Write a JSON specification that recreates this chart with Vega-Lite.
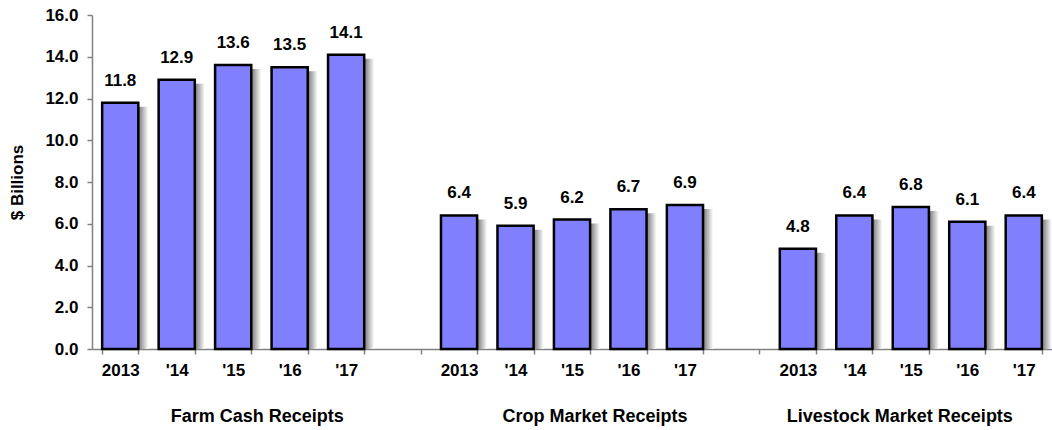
{
  "$schema": "https://vega.github.io/schema/vega-lite/v6.json",
  "width": 960,
  "height": 334,
  "autosize": {"type": "none"},
  "padding": {"left": 92, "top": 15, "right": 0, "bottom": 81},
  "background": "white",
  "config": {
    "view": {"stroke": null},
    "font": "Liberation Sans",
    "axis": {"labelFont": "Liberation Sans", "titleFont": "Liberation Sans", "labelFontWeight": "bold", "titleFontWeight": "bold", "labelColor": "black", "titleColor": "black", "domainColor": "#808080", "tickColor": "#808080", "grid": false}
  },
  "datasets": {
    "bars": [
      {"slot": "a|2013", "group": "Farm Cash Receipts", "value": 11.8},
      {"slot": "a|'14", "group": "Farm Cash Receipts", "value": 12.9},
      {"slot": "a|'15", "group": "Farm Cash Receipts", "value": 13.6},
      {"slot": "a|'16", "group": "Farm Cash Receipts", "value": 13.5},
      {"slot": "a|'17", "group": "Farm Cash Receipts", "value": 14.1},
      {"slot": "b|2013", "group": "Crop Market Receipts", "value": 6.4},
      {"slot": "b|'14", "group": "Crop Market Receipts", "value": 5.9},
      {"slot": "b|'15", "group": "Crop Market Receipts", "value": 6.2},
      {"slot": "b|'16", "group": "Crop Market Receipts", "value": 6.7},
      {"slot": "b|'17", "group": "Crop Market Receipts", "value": 6.9},
      {"slot": "c|2013", "group": "Livestock Market Receipts", "value": 4.8},
      {"slot": "c|'14", "group": "Livestock Market Receipts", "value": 6.4},
      {"slot": "c|'15", "group": "Livestock Market Receipts", "value": 6.8},
      {"slot": "c|'16", "group": "Livestock Market Receipts", "value": 6.1},
      {"slot": "c|'17", "group": "Livestock Market Receipts", "value": 6.4}
    ],
    "groups": [
      {"slot": "a|'15", "label": "Farm Cash Receipts"},
      {"slot": "b|'15", "label": "Crop Market Receipts"},
      {"slot": "c|'15", "label": "Livestock Market Receipts"}
    ]
  },
  "encoding": {
    "x": {
      "field": "slot",
      "type": "nominal",
      "scale": {
        "domain": ["a|2013", "a|'14", "a|'15", "a|'16", "a|'17", "g1|", "b|2013", "b|'14", "b|'15", "b|'16", "b|'17", "g2|", "c|2013", "c|'14", "c|'15", "c|'16", "c|'17"],
        "paddingInner": 0.36,
        "paddingOuter": 0.18
      },
      "axis": {
        "title": null,
        "labelExpr": "split(datum.value, '|')[1]",
        "labelAngle": 0,
        "labelFontSize": 17,
        "labelPadding": 8,
        "tickBand": "extent",
        "tickSize": 5,
        "domainWidth": 1.5,
        "tickWidth": 1.5
      }
    }
  },
  "layer": [
    {
      "data": {"name": "bars"},
      "mark": {
        "type": "bar",
        "xOffset": 10,
        "yOffset": 4,
        "y2Offset": 0,
        "fill": {
          "gradient": "linear", "x1": 0, "x2": 1, "y1": 0, "y2": 0,
          "stops": [
            {"offset": 0, "color": "#555555"},
            {"offset": 0.7, "color": "#6a6a6a"},
            {"offset": 1, "color": "#ffffff"}
          ]
        }
      },
      "encoding": {
        "y": {
          "field": "value",
          "type": "quantitative",
          "scale": {"domain": [0, 16]},
          "axis": {
            "title": "$ Billions",
            "values": [0, 2, 4, 6, 8, 10, 12, 14, 16],
            "format": ".1f",
            "labelFontSize": 17,
            "titleFontSize": 17,
            "labelPadding": 9,
            "titlePadding": 18,
            "tickSize": 5,
            "domainWidth": 1.5,
            "tickWidth": 1.5
          }
        },
        "y2": {"datum": 0}
      }
    },
    {
      "data": {"name": "bars"},
      "mark": {"type": "bar", "fill": "#8080ff", "stroke": "black", "strokeWidth": 2.5},
      "encoding": {"y": {"field": "value", "type": "quantitative"}}
    },
    {
      "data": {"name": "bars"},
      "mark": {"type": "text", "font": "Liberation Sans", "fontWeight": "bold", "fontSize": 17, "baseline": "alphabetic", "dy": -17, "color": "black"},
      "encoding": {
        "y": {"field": "value", "type": "quantitative"},
        "text": {"field": "value", "type": "quantitative", "format": ".1f"}
      }
    },
    {
      "data": {"name": "groups"},
      "transform": [{"filter": "datum.label === 'Farm Cash Receipts'"}],
      "mark": {"type": "text", "font": "Liberation Sans", "fontWeight": "bold", "fontSize": 18, "baseline": "middle", "dy": 68, "dx": 24, "color": "black"},
      "encoding": {"y": {"datum": 0, "type": "quantitative"}, "text": {"field": "label"}}
    },
    {
      "data": {"name": "groups"},
      "transform": [{"filter": "datum.label === 'Crop Market Receipts'"}],
      "mark": {"type": "text", "font": "Liberation Sans", "fontWeight": "bold", "fontSize": 18, "baseline": "middle", "dy": 68, "dx": 23, "color": "black"},
      "encoding": {"y": {"datum": 0, "type": "quantitative"}, "text": {"field": "label"}}
    },
    {
      "data": {"name": "groups"},
      "transform": [{"filter": "datum.label === 'Livestock Market Receipts'"}],
      "mark": {"type": "text", "font": "Liberation Sans", "fontWeight": "bold", "fontSize": 18, "baseline": "middle", "dy": 68, "dx": -11, "color": "black"},
      "encoding": {"y": {"datum": 0, "type": "quantitative"}, "text": {"field": "label"}}
    }
  ]
}
